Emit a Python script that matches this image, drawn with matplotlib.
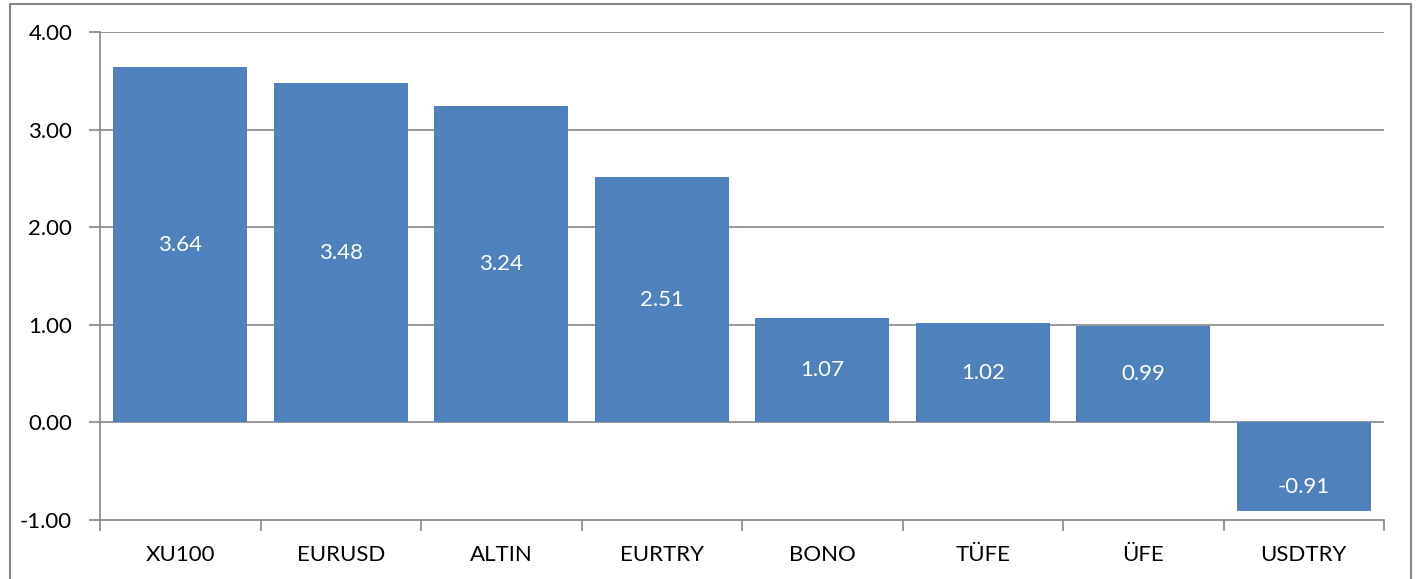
import matplotlib
matplotlib.use("Agg")
import matplotlib.pyplot as plt
from matplotlib.patches import Rectangle
import numpy as np

categories = ["XU100", "EURUSD", "ALTIN", "EURTRY", "BONO", "TÜFE", "ÜFE", "USDTRY"]
values = [3.64, 3.48, 3.24, 2.51, 1.07, 1.02, 0.99, -0.91]
yticks = [-1.0, 0.0, 1.0, 2.0, 3.0, 4.0]

plt.rcParams['font.family'] = ['Lato', 'DejaVu Sans']
W, H = 1416, 579
fig = plt.figure(figsize=(W / 100, H / 100), dpi=100)
ax = fig.add_axes([100 / W, 1 - 520 / H, (1384 - 100) / W, (520 - 32) / H])

grid_c = '#868686'
bar_c = '#4F81BD'
fs = 16
x = np.arange(len(categories))
ax.bar(x, values, width=0.835, color=bar_c, zorder=3)
ax.set_xlim(-0.5, len(categories) - 0.5)
ax.set_ylim(-1, 4)
ax.set_yticks(yticks)
ax.set_yticklabels([f"{t:.2f}" for t in yticks], fontsize=fs)
for t in yticks[1:]:
    ax.axhline(t, color=grid_c, lw=1.2, zorder=1)
ax.set_xticks(np.arange(-0.5, len(categories), 1))
ax.set_xticklabels([])
ax.set_xticks(x, minor=True)
ax.set_xticklabels(categories, minor=True, fontsize=fs)
ax.tick_params(axis='x', which='minor', length=0, pad=18)
ax.tick_params(axis='x', which='major', length=8, color=grid_c, width=1.2)
ax.tick_params(axis='y', length=8, color=grid_c, width=1.2, pad=12)
for s in ['top', 'right']:
    ax.spines[s].set_visible(False)
for s in ['left', 'bottom']:
    ax.spines[s].set_color(grid_c)
    ax.spines[s].set_linewidth(1.2)

for xi, v in zip(x, values):
    y = v / 2 if v >= 0 else v + 0.25
    ax.text(xi, y, f"{v:.2f}", ha='center', va='center', color='white', fontsize=fs, zorder=4)

fig.patches.append(Rectangle((10 / W, -0.05), (1411 - 10) / W, 1 - 4 / H + 0.05,
                             transform=fig.transFigure, fill=False, edgecolor=grid_c, lw=1.5))
fig.savefig("out.png", dpi=100)
